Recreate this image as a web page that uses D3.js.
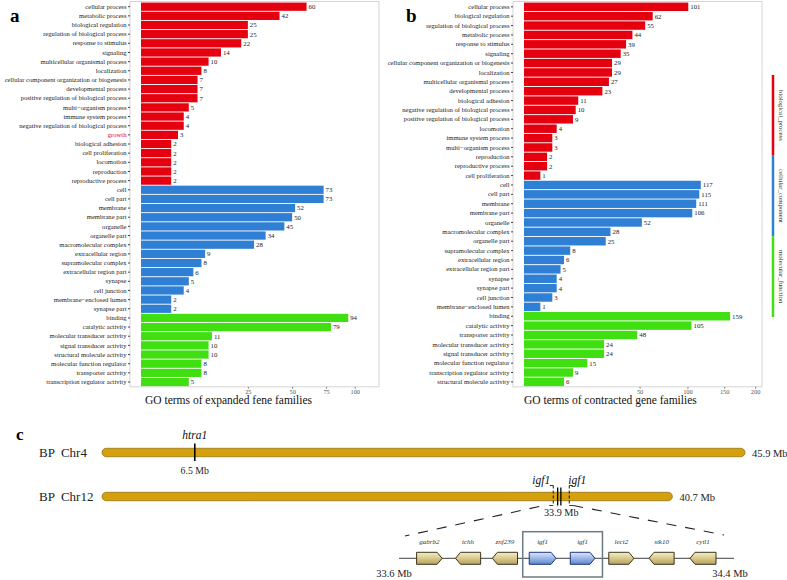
<!DOCTYPE html>
<html>
<head>
<meta charset="utf-8">
<style>
  * { margin: 0; padding: 0; box-sizing: border-box; }
  body { background: #fff; font-family: "Liberation Serif", "Times New Roman", serif; }
  svg { display: block; }
  .pre { white-space: pre; }
</style>
</head>
<body>
<div id="chart"></div>
<script src="https://cdn.jsdelivr.net/npm/d3@7"></script>
<script>
// ---- panel a: expanded gene families ----
const expBPTerms = ['cellular process', 'metabolic process', 'biological regulation', 'regulation of biological process',
  'response to stimulus', 'signaling', 'multicellular organismal process', 'localization',
  'cellular component organization or biogenesis', 'developmental process', 'positive regulation of biological process',
  'multi−organism process', 'immune system process', 'negative regulation of biological process', 'growth',
  'biological adhesion', 'cell proliferation', 'locomotion', 'reproduction', 'reproductive process'];
const expBPCounts = [60, 42, 25, 25, 22, 14, 10, 8, 7, 7, 7, 5, 4, 4, 3, 2, 2, 2, 2, 2];
const expCCTerms = ['cell', 'cell part', 'membrane', 'membrane part', 'organelle', 'organelle part', 'macromolecular complex',
  'extracellular region', 'supramolecular complex', 'extracellular region part', 'synapse', 'cell junction',
  'membrane−enclosed lumen', 'synapse part'];
const expCCCounts = [73, 73, 52, 50, 45, 34, 28, 9, 8, 6, 5, 4, 2, 2];
const expMFTerms = ['binding', 'catalytic activity', 'molecular transducer activity', 'signal transducer activity',
  'structural molecule activity', 'molecular function regulator', 'transporter activity', 'transcription regulator activity'];
const expMFCounts = [94, 79, 11, 10, 10, 8, 8, 5];

// ---- panel b: contracted gene families ----
const conBPTerms = ['cellular process', 'biological regulation', 'regulation of biological process', 'metabolic process',
  'response to stimulus', 'signaling', 'cellular component organization or biogenesis', 'localization',
  'multicellular organismal process', 'developmental process', 'biological adhesion',
  'negative regulation of biological process', 'positive regulation of biological process', 'locomotion',
  'immune system process', 'multi−organism process', 'reproduction', 'reproductive process', 'cell proliferation'];
const conBPCounts = [101, 62, 55, 44, 39, 35, 29, 29, 27, 23, 11, 10, 9, 4, 3, 3, 2, 2, 1];
const conCCTerms = ['cell', 'cell part', 'membrane', 'membrane part', 'organelle', 'macromolecular complex', 'organelle part',
  'supramolecular complex', 'extracellular region', 'extracellular region part', 'synapse', 'synapse part',
  'cell junction', 'membrane−enclosed lumen'];
const conCCCounts = [117, 115, 111, 106, 52, 28, 25, 8, 6, 5, 4, 4, 3, 1];
const conMFTerms = ['binding', 'catalytic activity', 'transporter activity', 'molecular transducer activity',
  'signal transducer activity', 'molecular function regulator', 'transcription regulator activity',
  'structural molecule activity'];
const conMFCounts = [159, 105, 48, 24, 24, 15, 9, 6];

const xTicksA = [25, 50, 75, 100];
const xTicksB = [50, 100, 150, 200];
const ontologies = ['biological_process', 'cellular_component', 'molecular_function'];

// ---- panel c: chromosomes (Mb) ----
const chromNames = ['BP  Chr4', 'BP  Chr12'];
const chromLengths = [45.9, 40.7];
const htra1Pos = 6.5;
const igf1Pos = 32.6;      // where the marks sit in the drawing (labelled 33.9 Mb)
const geneNames = ['gabrb2', 'tchh', 'znf239', 'igf1', 'igf1', 'lect2', 'stk10', 'cytl1'];
const geneStarts = [33.642, 33.735, 33.823, 33.911, 34.009, 34.101, 34.197, 34.295];
const geneEnds = [33.703, 33.795, 33.883, 33.975, 34.068, 34.161, 34.257, 34.357];
const geneStrands = [1, -1, -1, 1, 1, 1, -1, -1];
const regionStart = 33.6, regionEnd = 34.4;

const W = 787, H = 580;
const COLORS = { biological_process: '#e4000f', cellular_component: '#2f7fd5', molecular_function: '#40df12' };
const FONT = '"Liberation Serif", "Times New Roman", serif';

const svg = d3.select('#chart').append('svg').attr('width', W).attr('height', H)
  .attr('font-family', FONT);

function rowsFrom(terms, counts, ont) {
  return terms.map(function(t, i) { return { term: t, count: counts[i], ont: ont }; });
}

function drawPanel(rows, opt) {
  const g = svg.append('g');
  const y = d3.scaleBand().domain(rows.map(function(d) { return d.term; }))
    .range([opt.top, opt.bottom]).paddingInner(0.1).paddingOuter(0.02);
  const x = d3.scaleSqrt().domain([0, opt.max]).range([opt.x0, opt.right]);

  g.append('rect').attr('x', opt.left).attr('y', 1.5)
    .attr('width', opt.right - opt.left).attr('height', opt.bottom + 0.5 - 1.5)
    .attr('fill', 'none').attr('stroke', '#d4d4d4').attr('stroke-width', 1);

  g.selectAll('rect.bar').data(rows).join('rect').attr('class', 'bar')
    .attr('x', opt.x0).attr('y', function(d) { return y(d.term); })
    .attr('width', function(d) { return x(d.count) - opt.x0; })
    .attr('height', y.bandwidth())
    .attr('fill', function(d) { return COLORS[d.ont]; });

  g.selectAll('text.val').data(rows).join('text').attr('class', 'val')
    .attr('x', function(d) { return x(d.count) + 2; })
    .attr('y', function(d) { return y(d.term) + y.bandwidth() / 2; })
    .attr('dy', '0.35em').attr('font-size', 6.8).attr('fill', '#222')
    .text(function(d) { return d.count; });

  const yAxis = d3.axisLeft(y).tickSize(2).tickPadding(1.5);
  const ya = g.append('g').attr('transform', 'translate(' + opt.left + ',0)').call(yAxis);
  ya.attr('font-family', FONT);
  ya.select('.domain').remove();
  ya.selectAll('line').attr('stroke', '#444');
  ya.selectAll('text').attr('font-size', 6.6)
    .attr('fill', function(d) { return d === 'growth' ? '#e4000f' : '#222'; });

  const xAxis = d3.axisBottom(x).tickValues(opt.ticks).tickSize(2).tickPadding(1);
  const xa = g.append('g').attr('transform', 'translate(0,' + (opt.bottom + 0.5) + ')').call(xAxis);
  xa.attr('font-family', FONT);
  xa.select('.domain').remove();
  xa.selectAll('line').attr('stroke', '#888');
  xa.selectAll('text').attr('font-size', 6.4).attr('fill', '#555');

  g.append('text').attr('x', opt.titleX).attr('y', 404).attr('text-anchor', 'start')
    .attr('font-size', 11.5).attr('fill', '#111').text(opt.title);
  g.append('text').attr('x', opt.letterX).attr('y', 22).attr('font-size', 19)
    .attr('font-weight', 'bold').attr('fill', '#000').text(opt.letter);
}

const rowsA = rowsFrom(expBPTerms, expBPCounts, 'biological_process')
  .concat(rowsFrom(expCCTerms, expCCCounts, 'cellular_component'))
  .concat(rowsFrom(expMFTerms, expMFCounts, 'molecular_function'));
const rowsB = rowsFrom(conBPTerms, conBPCounts, 'biological_process')
  .concat(rowsFrom(conCCTerms, conCCCounts, 'cellular_component'))
  .concat(rowsFrom(conMFTerms, conMFCounts, 'molecular_function'));

drawPanel(rowsA, { left: 130, x0: 141, right: 379, top: 2.4, bottom: 386.3, max: 124, ticks: xTicksA,
  title: 'GO terms of expanded fene families', titleX: 145, letter: 'a', letterX: 10 });
drawPanel(rowsB, { left: 513, x0: 524, right: 762, top: 2.4, bottom: 386.3, max: 212, ticks: xTicksB,
  title: 'GO terms of contracted gene families', titleX: 524, letter: 'b', letterX: 406 });

// ontology legend bar
const legY = d3.scaleBand().domain(ontologies).range([75, 317]);
const leg = svg.append('g');
leg.selectAll('line').data(ontologies).join('line')
  .attr('x1', 773).attr('x2', 773)
  .attr('y1', function(d) { return legY(d); })
  .attr('y2', function(d) { return legY(d) + legY.bandwidth(); })
  .attr('stroke', function(d) { return COLORS[d]; }).attr('stroke-width', 2.5);
leg.selectAll('text').data(ontologies).join('text')
  .attr('transform', function(d) { return 'translate(779,' + (legY(d) + legY.bandwidth() / 2) + ') rotate(90)'; })
  .attr('text-anchor', 'middle').attr('font-size', 6.8).attr('fill', '#333')
  .text(function(d) { return d; });

// ---- panel c ----
const pc = svg.append('g');
pc.append('text').attr('x', 16).attr('y', 440).attr('font-size', 17).attr('font-weight', 'bold').text('c');

const cx = d3.scaleLinear().domain([0, d3.max(chromLengths)]).range([104, 745]);
const chromY = [452.5, 496.5];
const barH = 8.5;
const gold = '#d4a00c';

chromNames.forEach(function(name, i) {
  pc.append('text').attr('class', 'pre').attr('x', 39).attr('y', chromY[i] + 4.5)
    .attr('font-size', 13).attr('fill', '#222').text(name);
  pc.append('rect').attr('x', cx(0) - 2).attr('y', chromY[i] - barH / 2)
    .attr('width', cx(chromLengths[i]) - cx(0) + 2).attr('height', barH)
    .attr('rx', barH / 2).attr('ry', barH / 2)
    .attr('fill', gold).attr('stroke', '#7a5a00').attr('stroke-width', 0.6);
  pc.append('text').attr('x', cx(chromLengths[i]) + 7).attr('y', chromY[i] + 4)
    .attr('font-size', 10.5).attr('fill', '#222').text(chromLengths[i] + ' Mb');
});

// htra1 mark
const hx = cx(htra1Pos);
pc.append('line').attr('x1', hx).attr('x2', hx).attr('y1', chromY[0] - 9).attr('y2', chromY[0] + 8.5)
  .attr('stroke', '#000').attr('stroke-width', 1.6);
pc.append('text').attr('x', hx).attr('y', chromY[0] - 14).attr('text-anchor', 'middle')
  .attr('font-size', 11.5).attr('font-style', 'italic').attr('fill', '#111').text('htra1');
pc.append('text').attr('x', hx).attr('y', chromY[0] + 21).attr('text-anchor', 'middle')
  .attr('font-size', 9.8).attr('fill', '#222').text(htra1Pos + ' Mb');

// igf1 marks
const ix = cx(igf1Pos);
const y12 = chromY[1];
[-1.6, 1.6].forEach(function(o) {
  pc.append('line').attr('x1', ix + o).attr('x2', ix + o).attr('y1', y12 - 9).attr('y2', y12 + 9)
    .attr('stroke', '#000').attr('stroke-width', 1.3);
});
[-6, 10].forEach(function(o, k) {
  const lx = ix + o;
  pc.append('line').attr('x1', lx).attr('x2', lx).attr('y1', y12 - 11).attr('y2', y12 + 9)
    .attr('stroke', '#000').attr('stroke-width', 0.9).attr('stroke-dasharray', '3,2');
  const dir = k === 0 ? -1 : 1;
  pc.append('line').attr('x1', lx).attr('x2', lx + dir * 3.5).attr('y1', y12 - 11).attr('y2', y12 - 11)
    .attr('stroke', '#000').attr('stroke-width', 0.8);
  pc.append('line').attr('x1', lx).attr('x2', lx + dir * 4).attr('y1', y12 + 9).attr('y2', y12 + 9)
    .attr('stroke', '#000').attr('stroke-width', 0.8);
  pc.append('text').attr('x', lx + dir * (k === 0 ? 12 : 8)).attr('y', y12 - 13).attr('text-anchor', 'middle')
    .attr('font-size', 11.5).attr('font-style', 'italic').attr('fill', '#111').text('igf1');
});
pc.append('text').attr('x', ix + 2).attr('y', y12 + 19.5).attr('text-anchor', 'middle')
  .attr('font-size', 10.2).attr('fill', '#222').text('33.9 Mb');

// gene track
const gx = d3.scaleLinear().domain([regionStart, regionEnd]).range([399, 734]);
const trackY = 558.3;
const geneH = 12;

// zoom lines
pc.append('line').attr('x1', ix - 20).attr('y1', y12 + 10).attr('x2', gx(regionStart) + 6).attr('y2', 536)
  .attr('stroke', '#222').attr('stroke-width', 1.1).attr('stroke-dasharray', '10,9');
pc.append('line').attr('x1', ix + 14).attr('y1', y12 + 9).attr('x2', gx(regionEnd) - 10).attr('y2', 535)
  .attr('stroke', '#222').attr('stroke-width', 1.1).attr('stroke-dasharray', '10,9');

pc.append('line').attr('x1', gx(regionStart)).attr('x2', gx(regionEnd)).attr('y1', trackY).attr('y2', trackY)
  .attr('stroke', '#666').attr('stroke-width', 1.2);

const defs = svg.append('defs');
function grad(id, c1, c2) {
  const lg = defs.append('linearGradient').attr('id', id).attr('x1', 0).attr('y1', 0).attr('x2', 0).attr('y2', 1);
  lg.append('stop').attr('offset', '0%').attr('stop-color', c1);
  lg.append('stop').attr('offset', '100%').attr('stop-color', c2);
}
grad('gYel', '#f6efc4', '#b9a25a');
grad('gBlu', '#dce8fb', '#5d86d2');

geneNames.forEach(function(name, i) {
  const x1 = gx(geneStarts[i]), x2 = gx(geneEnds[i]);
  const t = trackY - geneH / 2, b = trackY + geneH / 2, tip = 5;
  let pts;
  if (geneStrands[i] > 0) {
    pts = [[x1, t], [x2 - tip, t], [x2, trackY], [x2 - tip, b], [x1, b]];
  } else {
    pts = [[x1 + tip, t], [x2, t], [x2, b], [x1 + tip, b], [x1, trackY]];
  }
  const isIgf = name === 'igf1';
  pc.append('path').attr('d', d3.line()(pts) + 'Z')
    .attr('fill', isIgf ? 'url(#gBlu)' : 'url(#gYel)')
    .attr('stroke', isIgf ? '#1f3576' : '#3a3320').attr('stroke-width', 1);
  pc.append('text').attr('x', (x1 + x2) / 2).attr('y', 543.5).attr('text-anchor', 'middle')
    .attr('font-size', 7).attr('font-style', 'italic').attr('fill', '#333').text(name);
});

// box around igf1 pair
const igfIdx = geneNames.map(function(n, i) { return n === 'igf1' ? i : -1; }).filter(function(i) { return i >= 0; });
const bx1 = gx(geneStarts[igfIdx[0]]) - 6.5, bx2 = gx(geneEnds[igfIdx[igfIdx.length - 1]]) + 7.5;
pc.append('rect').attr('x', bx1).attr('y', 531.7).attr('width', bx2 - bx1).attr('height', 45.3)
  .attr('fill', 'none').attr('stroke', '#6d7b80').attr('stroke-width', 1.5);

pc.append('text').attr('x', gx(regionStart) - 5).attr('y', 577).attr('text-anchor', 'middle')
  .attr('font-size', 10.5).attr('fill', '#222').text(regionStart + ' Mb');
pc.append('text').attr('x', gx(regionEnd) - 4).attr('y', 577).attr('text-anchor', 'middle')
  .attr('font-size', 10.5).attr('fill', '#222').text(regionEnd + ' Mb');
</script>
</body>
</html>
